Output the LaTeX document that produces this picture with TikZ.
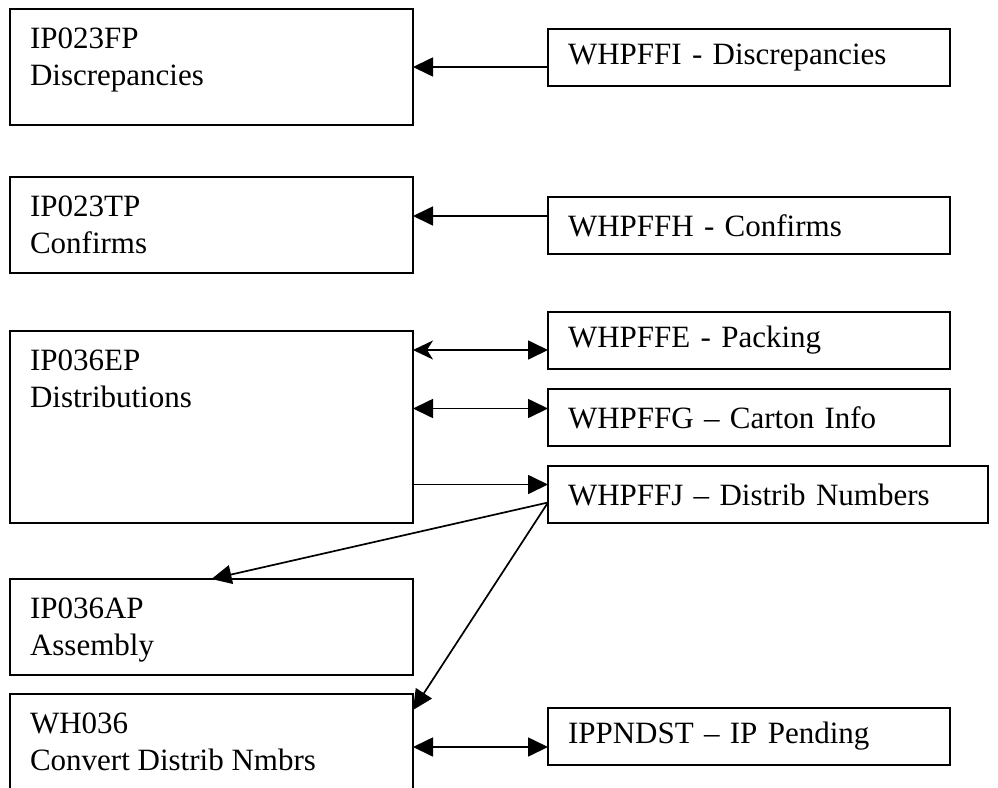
\documentclass[tikz,border=0pt]{standalone}
\usepackage{fontspec}
\setmainfont{Liberation Serif}
\usetikzlibrary{positioning,arrows.meta}

% two text lines, pinned to the top of a box of given height
\newcommand{\twolines}[3]{\parbox[t][#1][t]{363pt}{\vspace*{19pt}#2\\#3}}

\begin{document}
\begin{tikzpicture}[x=1pt, y=1pt,
    >={Triangle[length=20pt,width=19pt]},
    font=\fontsize{31}{37}\selectfont,
    lbox/.style={%
      rectangle, draw=black, line width=2pt, anchor=north west,
      inner xsep=20pt, inner ysep=0pt, outer sep=0pt
    },
    rbox/.style={%
      rectangle, draw=black, line width=2pt, anchor=north west,
      inner xsep=20pt, inner ysep=0pt, outer sep=0pt, text width=362pt,
      minimum height=57pt, align=left
    },
    link/.style={line width=1.7pt}
]
    \useasboundingbox (0,0) rectangle (998,-787);

    % programs
    \node[lbox] (fp) at (10,-9) {\twolines{116pt}{IP023FP}{Discrepancies}};
    \node[lbox, below=52pt of fp.south west, anchor=north west] (tp)
        {\twolines{96pt}{IP023TP}{Confirms}};
    \node[lbox, below=58pt of tp.south west, anchor=north west] (ep)
        {\twolines{192pt}{IP036EP}{Distributions}};
    \node[lbox, below=56pt of ep.south west, anchor=north west] (ap)
        {\twolines{96pt}{IP036AP}{Assembly}};
    \node[lbox, below=19pt of ap.south west, anchor=north west] (wh)
        {\twolines{120pt}{WH036}{Convert Distrib Nmbrs}};

    % files
    \node[rbox] (ffi) at (548,-29) {WHPFFI - Discrepancies};
    \node[rbox, below=111pt of ffi.south west, anchor=north west] (ffh) {WHPFFH - Confirms};
    \node[rbox, below=58pt of ffh.south west, anchor=north west] (ffe) {WHPFFE - Packing};
    \node[rbox, below=20pt of ffe.south west, anchor=north west] (ffg) {WHPFFG – Carton Info};
    \node[rbox, below=20pt of ffg.south west, anchor=north west, text width=400pt] (ffj)
        {WHPFFJ – Distrib Numbers};
    \node[rbox, below=185pt of ffj.south west, anchor=north west] (pnd) {IPPNDST – IP Pending};

    \coordinate (c1) at ([yshift=-9.5pt]ffi.west);
    \coordinate (c2) at ([yshift=9.5pt]ffh.west);
    \coordinate (c3) at ([yshift=-9.5pt]ffe.west);
    \coordinate (c4) at ([yshift=9pt]ffg.west);
    \coordinate (c5) at ([yshift=10pt]ffj.west);
    \coordinate (c6) at ([yshift=-8pt]ffj.west);
    \coordinate (c7) at ([yshift=-10.5pt]pnd.west);

    \draw[link,->] (c1) -- (fp.east |- c1);
    \draw[link,->] (c2) -- (tp.east |- c2);
    \draw[link,{Stealth[length=20pt,width=19pt,inset=6pt]}->] (ep.east |- c3) -- (c3);
    \draw[link,<->] (ep.east |- c4) -- (c4);
    \draw[link,->] (ep.east |- c5) -- (c5);
    \draw[link,->] (c6) -- (ap.north);
    \draw[link,->] (c6) -- ([yshift=-16pt]wh.north east);
    \draw[link,<->] (wh.east |- c7) -- (c7);

\end{tikzpicture}
\end{document}
